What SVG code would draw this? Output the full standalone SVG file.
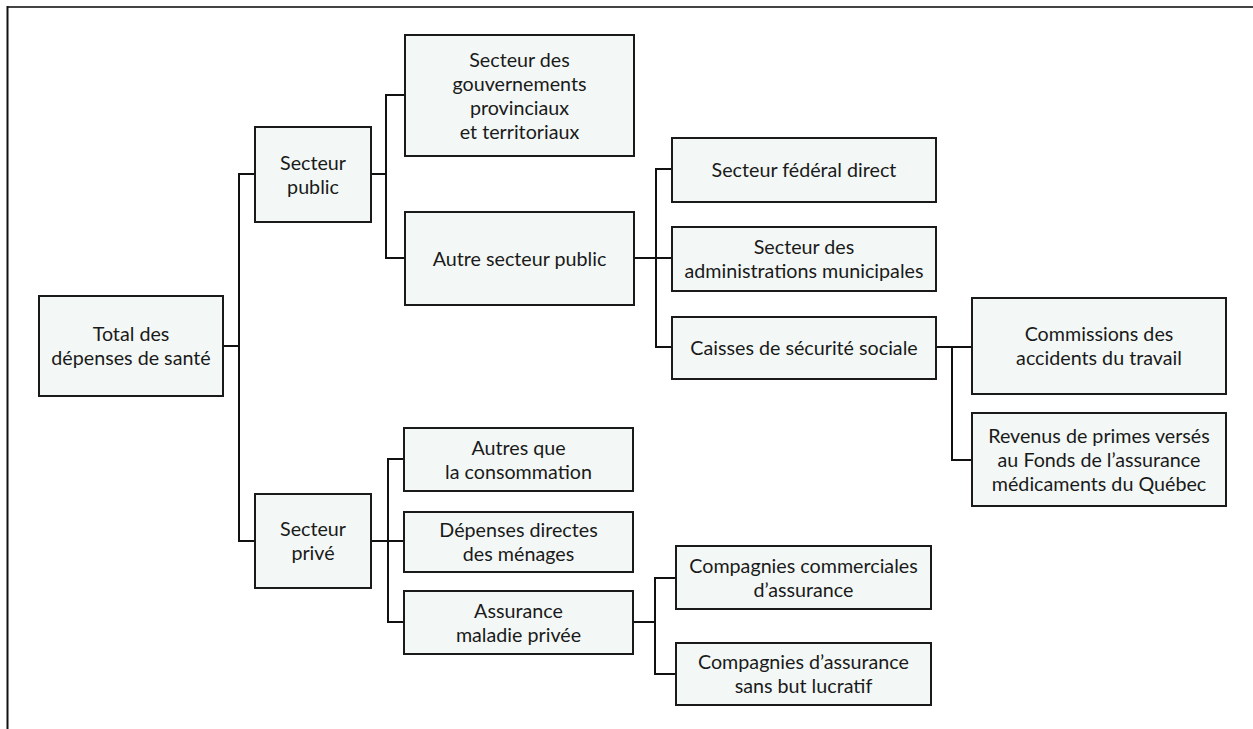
<svg xmlns="http://www.w3.org/2000/svg" width="1253" height="729" viewBox="0 0 1253 729">
<style>
.box{fill:#f3f8f6;stroke:#1a1a1a;stroke-width:2}
.t{font-family:Lato,"Open Sans","Liberation Sans",sans-serif;font-size:19.7px;fill:#1a1a1a;text-anchor:middle}
.c{fill:none;stroke:#111;stroke-width:2}
</style>
<rect width="1253" height="729" fill="#fff"/>
<g id="frame">
<line x1="7" y1="7" x2="1253" y2="7" stroke="#444" stroke-width="2"/>
<line x1="7.5" y1="6" x2="7.5" y2="729" stroke="#111" stroke-width="2"/>
</g>
<g id="connectors" class="c">
<path class="c" d="M223,346H239M255,174H239V541H255"/>
<path class="c" d="M371,174H386M405,95H386V258H405"/>
<path class="c" d="M634,258H672M672,169H656V347H672"/>
<path class="c" d="M936,347H972M952,347V460H972"/>
<path class="c" d="M371,541H404M404,459H388V622H404"/>
<path class="c" d="M633,622H655M676,578H655V674H676"/>
</g>
<g id="total"><rect class="box" x="39" y="296" width="184" height="100"/>
<text class="t" x="131" y="341">Total des</text><text class="t" x="131" y="365">dépenses de santé</text></g>
<g id="public"><rect class="box" x="255" y="127" width="116" height="95"/>
<text class="t" x="313" y="169.5">Secteur</text><text class="t" x="313" y="193.5">public</text></g>
<g id="gouv"><rect class="box" x="405" y="35" width="229" height="121"/>
<text class="t" x="519.5" y="66.5">Secteur des</text><text class="t" x="519.5" y="90.5">gouvernements</text><text class="t" x="519.5" y="114.5">provinciaux</text><text class="t" x="519.5" y="138.5">et territoriaux</text></g>
<g id="autre"><rect class="box" x="405" y="212" width="229" height="93"/>
<text class="t" x="519.5" y="265.5">Autre secteur public</text></g>
<g id="federal"><rect class="box" x="672" y="138" width="264" height="64"/>
<text class="t" x="804" y="177">Secteur fédéral direct</text></g>
<g id="admin"><rect class="box" x="672" y="227" width="264" height="64"/>
<text class="t" x="804" y="254">Secteur des</text><text class="t" x="804" y="278">administrations municipales</text></g>
<g id="caisses"><rect class="box" x="672" y="317" width="264" height="62"/>
<text class="t" x="804" y="355">Caisses de sécurité sociale</text></g>
<g id="commissions"><rect class="box" x="972" y="298" width="254" height="96"/>
<text class="t" x="1099" y="341">Commissions des</text><text class="t" x="1099" y="365">accidents du travail</text></g>
<g id="revenus"><rect class="box" x="972" y="413" width="254" height="93"/>
<text class="t" x="1099" y="442.5">Revenus de primes versés</text><text class="t" x="1099" y="466.5">au Fonds de l’assurance</text><text class="t" x="1099" y="490.5">médicaments du Québec</text></g>
<g id="prive"><rect class="box" x="255" y="494" width="116" height="94"/>
<text class="t" x="313" y="536">Secteur</text><text class="t" x="313" y="560">privé</text></g>
<g id="autres"><rect class="box" x="404" y="428" width="229" height="63"/>
<text class="t" x="518.5" y="454.5">Autres que</text><text class="t" x="518.5" y="478.5">la consommation</text></g>
<g id="directes"><rect class="box" x="404" y="512" width="229" height="60"/>
<text class="t" x="518.5" y="537">Dépenses directes</text><text class="t" x="518.5" y="561">des ménages</text></g>
<g id="assurance"><rect class="box" x="404" y="591" width="229" height="63"/>
<text class="t" x="518.5" y="617.5">Assurance</text><text class="t" x="518.5" y="641.5">maladie privée</text></g>
<g id="commerciales"><rect class="box" x="676" y="546" width="255" height="63"/>
<text class="t" x="803.5" y="572.5">Compagnies commerciales</text><text class="t" x="803.5" y="596.5">d’assurance</text></g>
<g id="sansbut"><rect class="box" x="676" y="643" width="255" height="62"/>
<text class="t" x="803.5" y="669">Compagnies d’assurance</text><text class="t" x="803.5" y="693">sans but lucratif</text></g>
</svg>
